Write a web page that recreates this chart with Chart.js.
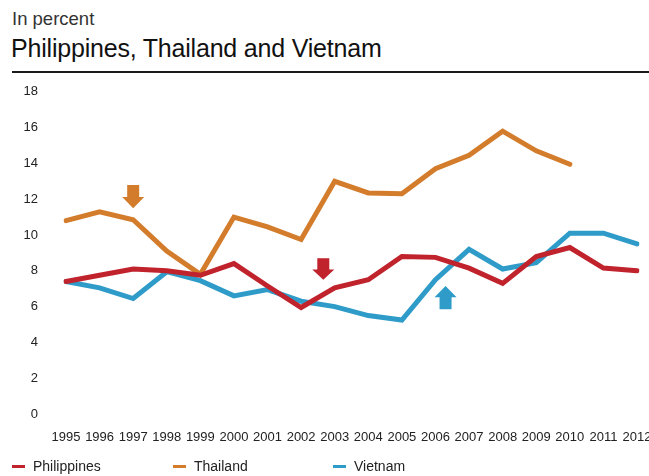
<!DOCTYPE html>
<html>
<head>
<meta charset="utf-8">
<script src="https://cdn.jsdelivr.net/npm/chart.js@4.4.1/dist/chart.umd.min.js"></script>
<style>
  html, body { margin: 0; padding: 0; background: #fff; overflow: hidden; }
  body { width: 649px; height: 476px; position: relative; }
  .sub { position: absolute; left: 12px; top: 8px; font: 18.5px 'Liberation Sans', Arial, sans-serif; color: #333; }
  .title { position: absolute; left: 11px; top: 34px; font: 25px 'Liberation Sans', Arial, sans-serif; color: #111; letter-spacing: -0.2px; }
  .rule { position: absolute; left: 12px; top: 71px; width: 640px; height: 2px; background: #1a1a1a; }
  #wrap { position: absolute; left: 0; top: 56px; width: 690px; height: 404px; }
  .legend { position: absolute; top: 458px; font: 14px 'Liberation Sans', Arial, sans-serif; color: #222; }
  .legend span.key { display: inline-block; width: 13px; height: 3px; vertical-align: middle; margin-right: 8px; position: relative; top: -1px; }
</style>
</head>
<body>
<div class="sub">In percent</div>
<div class="title">Philippines, Thailand and Vietnam</div>
<div class="rule"></div>
<div id="wrap"><canvas id="chart"></canvas></div>
<div id="legend"></div>

<script>
/* ─── DATA ─── */
const YEARS = ['1995','1996','1997','1998','1999','2000','2001','2002','2003','2004','2005','2006','2007','2008','2009','2010','2011','2012'];
const PHILIPPINES = [7.4, 7.75, 8.1, 8.0, 7.75, 8.4, 7.15, 5.95, 7.05, 7.5, 8.8, 8.75, 8.15, 7.3, 8.8, 9.3, 8.15, 8.0];
const THAILAND    = [10.8, 11.3, 10.85, 9.1, 7.8, 11.0, 10.45, 9.75, 13.0, 12.35, 12.3, 13.7, 14.45, 15.8, 14.7, 13.95, null, null];
const VIETNAM     = [7.4, 7.05, 6.45, 7.95, 7.45, 6.6, 6.95, 6.3, 6.0, 5.5, 5.25, 7.5, 9.2, 8.1, 8.45, 10.1, 10.1, 9.5];
const Y_TICKS = [0, 2, 4, 6, 8, 10, 12, 14, 16, 18];

/* arrow annotations: x = year index, from/to = values (tail → tip) */
const ARROWS = [
  { x: 2,    from: 12.8, to: 11.5, color: 'rgb(211,124,44)' },
  { x: 7.66, from: 8.7,  to: 7.5,  color: 'rgb(193,35,45)' },
  { x: 11.3, from: 5.85, to: 7.15, color: 'rgb(46,155,200)' },
];

const COLORS = {
  red:    'rgb(193,35,45)',
  orange: 'rgb(211,124,44)',
  blue:   'rgb(46,155,200)',
};

const SERIES = [
  { label: 'Philippines', data: PHILIPPINES, color: COLORS.red,    legendX: 12 },
  { label: 'Thailand',    data: THAILAND,    color: COLORS.orange, legendX: 173 },
  { label: 'Vietnam',     data: VIETNAM,     color: COLORS.blue,   legendX: 333 },
];

const TICK_FONT = { family: "'Liberation Sans', Arial, sans-serif", size: 13 };

/* ─── ARROW PLUGIN ─── */
const arrowPlugin = {
  id: 'arrows',
  afterDatasetsDraw(chart) {
    const { ctx, scales: { x, y } } = chart;
    ARROWS.forEach(a => {
      const cx = x.getPixelForValue(a.x);
      const y0 = y.getPixelForValue(a.from);
      const y1 = y.getPixelForValue(a.to);
      const dir = y1 > y0 ? 1 : -1;
      const len = Math.abs(y1 - y0);
      const head = len * 0.48;
      const yNeck = y1 - dir * head;
      ctx.save();
      ctx.fillStyle = a.color;
      ctx.beginPath();
      ctx.moveTo(cx - 6, y0);
      ctx.lineTo(cx + 6, y0);
      ctx.lineTo(cx + 6, yNeck);
      ctx.lineTo(cx + 11, yNeck);
      ctx.lineTo(cx, y1);
      ctx.lineTo(cx - 11, yNeck);
      ctx.lineTo(cx - 6, yNeck);
      ctx.closePath();
      ctx.fill();
      ctx.restore();
    });
  }
};

new Chart(document.getElementById('chart'), {
  type: 'line',
  data: {
    labels: YEARS,
    datasets: SERIES.map(s => ({
      label: s.label,
      data: s.data,
      borderColor: s.color,
      backgroundColor: s.color,
      borderWidth: 5,
      pointRadius: 0,
      tension: 0,
      borderCapStyle: 'round',
      borderJoinStyle: 'miter',
      spanGaps: false,
    }))
  },
  options: {
    responsive: true,
    maintainAspectRatio: false,
    animation: false,
    layout: { padding: { top: 9, right: 53, left: 0, bottom: 0 } },
    plugins: { legend: { display: false }, tooltip: { enabled: false } },
    scales: {
      x: {
        grid: { display: false, drawTicks: false },
        border: { display: false },
        ticks: { color: '#222', font: TICK_FONT, padding: 16, maxRotation: 0, autoSkip: false },
        afterFit: s => { s.height = 46; }
      },
      y: {
        min: 0, max: 18,
        grid: { display: false, drawTicks: false },
        border: { display: false },
        afterBuildTicks: s => { s.ticks = Y_TICKS.map(v => ({ value: v })); },
        ticks: { color: '#222', font: TICK_FONT, padding: 28 },
        afterFit: s => { s.width = 66; }
      }
    }
  },
  plugins: [arrowPlugin]
});

/* ─── LEGEND ─── */
const legend = document.getElementById('legend');
SERIES.forEach(s => {
  const el = document.createElement('div');
  el.className = 'legend';
  el.style.left = s.legendX + 'px';
  el.innerHTML = `<span class="key" style="background:${s.color}"></span>${s.label}`;
  legend.appendChild(el);
});
</script>
</body>
</html>
